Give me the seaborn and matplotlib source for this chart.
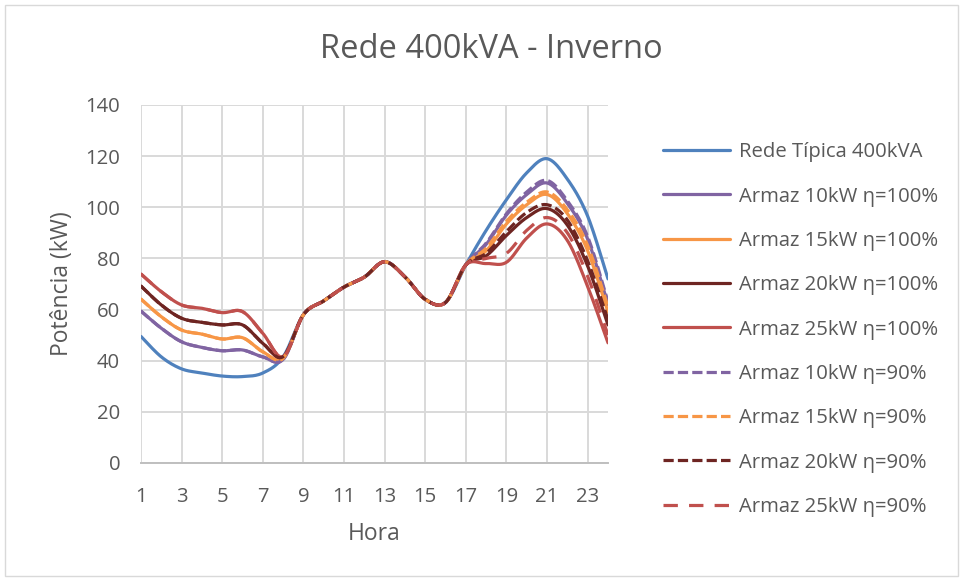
import numpy as np
import pandas as pd
import seaborn as sns
import matplotlib
matplotlib.use("Agg")
import matplotlib.pyplot as plt
from matplotlib.patches import Rectangle

# ---- data -------------------------------------------------------------
hours = list(range(1, 25))

rede_tipica = [49.5, 41.5, 36.8, 35.2, 34.0, 33.8, 35.2, 41.5,
               58.0, 63.4, 68.8, 72.7, 78.7, 72.8, 64.0, 62.8,
               77.5, 91.0, 103.0, 113.5, 119.0, 111.0, 96.5, 72.0]

armaz10_100 = [59.4, 52.7, 47.4, 45.2, 43.9, 44.2, 41.5, 40.5,
               58.0, 63.4, 68.8, 72.7, 78.7, 72.8, 64.0, 62.8,
               77.5, 85.5, 97.0, 105.0, 109.5, 101.5, 87.5, 62.0]
armaz15_100 = [64.1, 57.2, 52.0, 50.4, 48.5, 49.0, 43.5, 41.0,
               58.0, 63.4, 68.8, 72.7, 78.7, 72.8, 64.0, 62.8,
               77.5, 83.0, 93.5, 101.0, 105.0, 97.5, 83.0, 59.0]
armaz20_100 = [69.2, 61.8, 56.6, 55.0, 54.0, 54.0, 46.8, 41.6,
               58.0, 63.4, 68.8, 72.7, 78.7, 72.8, 64.0, 62.8,
               77.5, 81.0, 89.0, 96.0, 99.5, 93.0, 77.0, 54.0]
armaz25_100 = [73.9, 67.0, 61.8, 60.5, 58.8, 59.2, 50.7, 41.6,
               58.0, 63.4, 68.8, 72.7, 78.7, 72.8, 64.0, 62.8,
               77.5, 78.0, 78.5, 88.0, 93.5, 87.0, 69.0, 47.0]

armaz10_90 = [59.4, 52.7, 47.4, 45.2, 43.9, 44.2, 41.5, 40.5,
              58.0, 63.4, 68.8, 72.7, 78.7, 72.8, 64.0, 62.8,
              77.5, 86.0, 97.5, 106.0, 110.5, 102.5, 88.5, 63.0]
armaz15_90 = [64.1, 57.2, 52.0, 50.4, 48.5, 49.0, 43.5, 41.0,
              58.0, 63.4, 68.8, 72.7, 78.7, 72.8, 64.0, 62.8,
              77.5, 84.0, 94.5, 102.0, 106.0, 99.0, 85.0, 61.0]
armaz20_90 = [69.2, 61.8, 56.6, 55.0, 54.0, 54.0, 46.8, 41.6,
              58.0, 63.4, 68.8, 72.7, 78.7, 72.8, 64.0, 62.8,
              77.5, 82.0, 90.5, 98.0, 101.0, 95.0, 79.0, 56.0]
armaz25_90 = [73.9, 67.0, 61.8, 60.5, 58.8, 59.2, 50.7, 41.6,
              58.0, 63.4, 68.8, 72.7, 78.7, 72.8, 64.0, 62.8,
              77.5, 80.0, 82.0, 91.0, 96.0, 90.0, 73.0, 50.0]

series_names = ["Rede Típica 400kVA",
                "Armaz 10kW η=100%", "Armaz 15kW η=100%",
                "Armaz 20kW η=100%", "Armaz 25kW η=100%",
                "Armaz 10kW η=90%", "Armaz 15kW η=90%",
                "Armaz 20kW η=90%", "Armaz 25kW η=90%"]
series_values = [rede_tipica, armaz10_100, armaz15_100, armaz20_100,
                 armaz25_100, armaz10_90, armaz15_90, armaz20_90, armaz25_90]

# ---- styles -----------------------------------------------------------
BLUE, PURPLE, ORANGE, DARK, RED = "#4F81BD", "#8064A2", "#F79646", "#6E2522", "#C0504D"
colors = [BLUE, PURPLE, ORANGE, DARK, RED, PURPLE, ORANGE, DARK, RED]
short_dash = (3.2, 1.3)
long_dash = (4.5, 3.5)
dashes = ["", "", "", "", "", short_dash, short_dash, short_dash, long_dash]


def smooth(x, y, n=20):
    """Bezier-smoothed polyline through the points (spreadsheet 'smoothed line')."""
    x = np.asarray(x, float)
    y = np.asarray(y, float)
    P = np.column_stack([x, y])
    ext = np.vstack([P[0], P, P[-1]])
    out = []
    t = np.linspace(0, 1, n, endpoint=False)[:, None]
    for i in range(len(P) - 1):
        p0, p3 = P[i], P[i + 1]
        p1 = p0 + (ext[i + 2] - ext[i]) / 6.0
        p2 = p3 - (ext[i + 3] - ext[i + 1]) / 6.0
        seg = ((1 - t) ** 3) * p0 + 3 * ((1 - t) ** 2) * t * p1 + 3 * (1 - t) * t ** 2 * p2 + t ** 3 * p3
        out.append(seg)
    out.append(P[-1][None, :])
    out = np.vstack(out)
    return out[:, 0], out[:, 1]


rows = []
for name, vals in zip(series_names, series_values):
    sx, sy = smooth(hours, vals)
    rows.append(pd.DataFrame({"Hora": sx, "Potência": sy, "Série": name}))
df = pd.concat(rows, ignore_index=True)

sns.set_theme(style="white")
FONT = ["Open Sans", "DejaVu Sans"]
plt.rcParams["font.family"] = FONT
TXT = "#595959"
GRID = "#D9D9D9"
FS = 14.6

fig = plt.figure(figsize=(9.63, 5.79), dpi=100)
ax = fig.add_axes([141 / 963, 1 - 463 / 579, 467 / 963, 358 / 579])

sns.lineplot(data=df, x="Hora", y="Potência", hue="Série", style="Série",
             hue_order=series_names, style_order=series_names,
             palette=colors, dashes=dashes, linewidth=2.3, sort=False,
             estimator=None, ax=ax, legend=True)

ax.set_xlim(1, 24)
ax.set_ylim(0, 140)
ax.set_xticks(range(1, 24, 2))
ax.set_yticks(range(0, 141, 20))
ax.grid(True, color=GRID, linewidth=1.4)
ax.set_axisbelow(True)
for s in ["top", "right", "left"]:
    ax.spines[s].set_visible(False)
ax.spines["bottom"].set_color("#BFBFBF")
ax.spines["bottom"].set_linewidth(1.4)
ax.tick_params(axis="both", length=0, labelsize=FS, labelcolor=TXT)
ax.tick_params(axis="y", pad=15)
ax.tick_params(axis="x", pad=17)
ax.set_xlabel("Hora", fontsize=16.5, color=TXT, labelpad=11)
ax.set_ylabel("Potência (kW)", fontsize=16.5, color=TXT, labelpad=8)

fig.text(491 / 963, 1 - 50 / 579, "Rede 400kVA - Inverno", ha="center", va="center",
         fontsize=23.5, color=TXT)

handles, labels = ax.get_legend_handles_labels()
ax.legend(handles, labels, loc="upper left", bbox_to_anchor=(645 / 963, 1 - 124 / 579),
          bbox_transform=fig.transFigure, frameon=False, fontsize=FS,
          labelcolor=TXT, handlelength=3.3, handletextpad=0.42, labelspacing=1.2)

fig.add_artist(Rectangle((5 / 963, 3 / 579), 953 / 963, 571 / 579,
                         transform=fig.transFigure, fill=False,
                         edgecolor=GRID, linewidth=1.0))

fig.savefig("out.png", dpi=100)
